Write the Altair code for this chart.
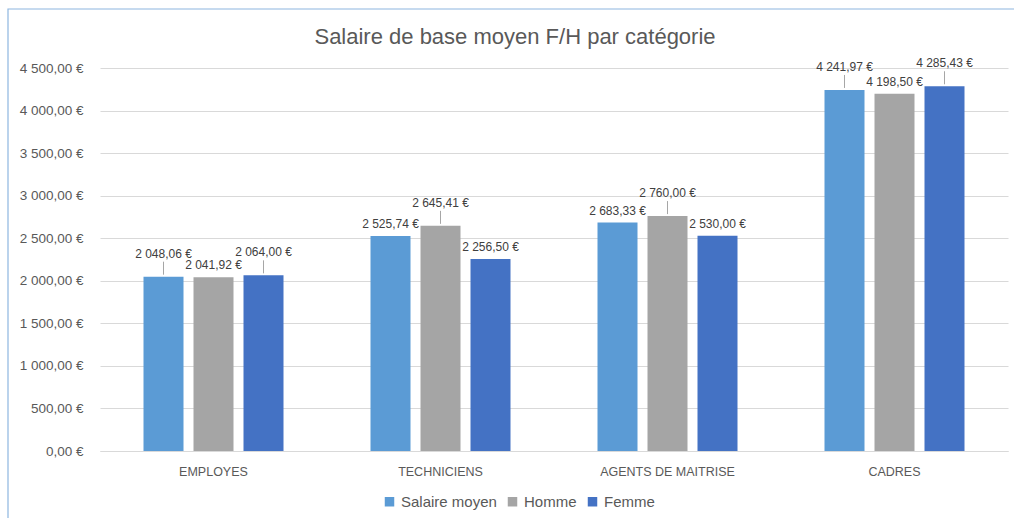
import altair as alt
import pandas as pd

categories = ["EMPLOYES", "TECHNICIENS", "AGENTS DE MAITRISE", "CADRES"]
series = ["Salaire moyen", "Homme", "Femme"]
salaire_moyen = [2048.06, 2525.74, 2683.33, 4241.97]
homme = [2041.92, 2645.41, 2760.00, 4198.50]
femme = [2064.00, 2256.50, 2530.00, 4285.43]
colors = ["#5B9BD5", "#A5A5A5", "#4472C4"]
title_text = "Salaire de base moyen F/H par catégorie"
# labels that Excel moved up with a leader line
lifted = {("EMPLOYES", "Salaire moyen"), ("EMPLOYES", "Femme"),
          ("TECHNICIENS", "Homme"), ("AGENTS DE MAITRISE", "Homme"),
          ("CADRES", "Salaire moyen"), ("CADRES", "Femme")}


def fr(v):
    return f"{v:,.2f}".replace(",", "\u00a0").replace(".", ",") + " €"


rows = []
for s, vals in zip(series, [salaire_moyen, homme, femme]):
    for c, v in zip(categories, vals):
        rows.append({"cat": c, "serie": s, "val": v, "label": fr(v),
                     "lift": (c, s) in lifted})
df = pd.DataFrame(rows)

FONT = "Liberation Sans"
TXT = "#595959"

x_enc = alt.X("cat:N", sort=categories, title=None,
              scale=alt.Scale(paddingInner=0, paddingOuter=0),
              axis=alt.Axis(labelAngle=0, ticks=False, domain=True,
                            domainColor="#D9D9D9", labelFont=FONT,
                            labelFontSize=12.5, labelColor=TXT,
                            labelPadding=14))
xo_enc = alt.XOffset("serie:N", sort=series,
                     scale=alt.Scale(paddingInner=0.2, paddingOuter=0.87))
y_enc = alt.Y("val:Q", title=None,
              scale=alt.Scale(domain=[0, 4500], nice=False),
              axis=alt.Axis(values=list(range(0, 5000, 500)), ticks=False,
                            domain=False, gridColor="#D9D9D9",
                            labelFont=FONT, labelFontSize=13.5,
                            labelColor=TXT, labelPadding=17,
                            labelExpr="replace(format(datum.value, ','), ',', '\u00a0') + ',00 €'"))

base = alt.Chart(df)

bars = base.mark_bar().encode(
    x=x_enc, xOffset=xo_enc, y=y_enc,
    color=alt.Color("serie:N", sort=series,
                    scale=alt.Scale(domain=series, range=colors),
                    legend=alt.Legend(title=None, orient="none",
                                      direction="horizontal",
                                      legendX=282, legendY=426,
                                      symbolType="square", symbolSize=90,
                                      labelFont=FONT, labelFontSize=15,
                                      labelColor=TXT, columnPadding=8,
                                      labelOffset=4,
                                      symbolStrokeWidth=0)),
)

xs = alt.X("cat:N", sort=categories)
xos = alt.XOffset("serie:N", sort=series)

txt_normal = base.transform_filter("!datum.lift").mark_text(
    baseline="bottom", dy=-5, font=FONT, fontSize=12, color="#404040"
).encode(x=xs, xOffset=xos, y="val:Q", text="label:N")

txt_lift = base.transform_filter("datum.lift").mark_text(
    baseline="bottom", dy=-16, font=FONT, fontSize=12, color="#404040"
).encode(x=xs, xOffset=xos, y="val:Q", text="label:N")

leader = base.transform_filter("datum.lift").mark_rule(
    color="#A6A6A6", strokeWidth=1, yOffset=-2, y2Offset=-15
).encode(x=xs, xOffset=xos, y="val:Q", y2="val:Q")

border = alt.Chart(pd.DataFrame({"a": [0]})).mark_rect(
    fill=None, stroke="#8EB6E0", strokeWidth=1.2, clip=False
).encode(x=alt.value(-92), x2=alt.value(930), y=alt.value(-59), y2=alt.value(480))

title = alt.Chart(pd.DataFrame({"t": [title_text]})).mark_text(
    font=FONT, fontSize=22, color=TXT, baseline="middle", align="center"
).encode(x=alt.value(415), y=alt.value(-31), text="t:N")

chart = alt.layer(border, bars, leader, txt_normal, txt_lift, title).properties(
    width=908, height=383,
    padding={"left": 100, "top": 68, "right": 6, "bottom": 67},
    autosize=alt.AutoSizeParams(type="none"),
).configure_view(stroke=None).configure_axis(grid=True).configure_axisX(grid=False)

chart.save("out.html", embed_options={"renderer": "svg", "actions": False})
